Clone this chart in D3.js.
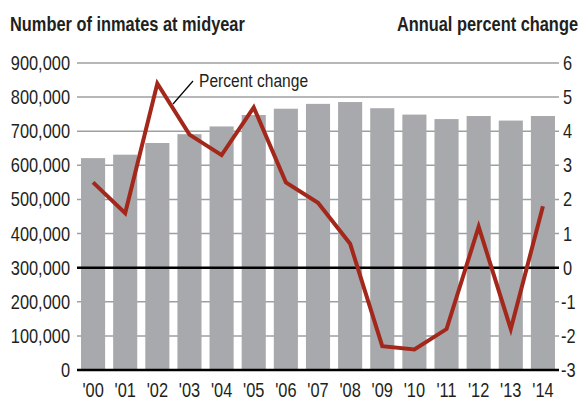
<!DOCTYPE html>
<html>
<head>
<meta charset="utf-8">
<script src="https://cdn.jsdelivr.net/npm/d3@7"></script>
<style>
  body { margin: 0; background: #fff; }
  text { font-family: "Liberation Sans", Arial, sans-serif; fill: #231f20; }
</style>
</head>
<body>
<div id="chart"></div>
<script>
// Jail inmates at midyear and annual percent change, 2000-2014

const years = ["'00", "'01", "'02", "'03", "'04", "'05", "'06", "'07", "'08", "'09", "'10", "'11", "'12", "'13", "'14"];
const inmates = [621149, 631240, 665475, 691301, 713990, 747529, 766010, 780174, 785533, 767434, 748728, 735601, 744524, 731208, 744592];
const pctChange = [2.5, 1.6, 5.4, 3.9, 3.3, 4.7, 2.5, 1.9, 0.7, -2.3, -2.4, -1.8, 1.2, -1.8, 1.8];
const leftTicks = [0, 100000, 200000, 300000, 400000, 500000, 600000, 700000, 800000, 900000];
const rightTicks = [-3, -2, -1, 0, 1, 2, 3, 4, 5, 6];

const width = 579, height = 400;
const plotLeft = 77, plotRight = 559, plotTop = 63, plotBottom = 370;
const squeeze = 0.82; // narrow the font horizontally

const svg = d3.select("#chart")
  .append("svg")
  .attr("width", width)
  .attr("height", height);

const xScale = d3.scaleBand()
  .domain(years)
  .range([plotLeft, plotRight])
  .paddingInner(0.25)
  .paddingOuter(0.125);

const yLeft = d3.scaleLinear()
  .domain([0, 900000])
  .range([plotBottom, plotTop]);

const yRight = d3.scaleLinear()
  .domain([-3, 6])
  .range([plotBottom, plotTop]);

const place = (x, y) => `translate(${x},${y}) scale(${squeeze},1)`;

// gridlines
svg.append("g")
  .selectAll("line")
  .data(leftTicks.filter(d => d !== 0 && d !== 300000))
  .join("line")
  .attr("x1", plotLeft)
  .attr("x2", plotRight)
  .attr("y1", d => yLeft(d))
  .attr("y2", d => yLeft(d))
  .attr("stroke", "#9d9fa2")
  .attr("stroke-width", 1.5);

// bars
svg.append("g")
  .selectAll("rect")
  .data(inmates)
  .join("rect")
  .attr("x", (d, i) => xScale(years[i]))
  .attr("y", d => yLeft(d))
  .attr("width", xScale.bandwidth())
  .attr("height", d => yLeft(0) - yLeft(d))
  .attr("fill", "#a7a9ac");

// zero line for percent change and baseline
svg.append("line")
  .attr("x1", plotLeft).attr("x2", plotRight)
  .attr("y1", yRight(0)).attr("y2", yRight(0))
  .attr("stroke", "#000")
  .attr("stroke-width", 2.5);
svg.append("line")
  .attr("x1", plotLeft).attr("x2", plotRight)
  .attr("y1", yLeft(0)).attr("y2", yLeft(0))
  .attr("stroke", "#000")
  .attr("stroke-width", 2.5);

// percent change line
const line = d3.line()
  .x((d, i) => xScale(years[i]) + xScale.bandwidth() / 2)
  .y(d => yRight(d));

svg.append("path")
  .datum(pctChange)
  .attr("d", line)
  .attr("fill", "none")
  .attr("stroke", "#a3281b")
  .attr("stroke-width", 4)
  .attr("stroke-linejoin", "miter");

// left axis labels
svg.append("g")
  .selectAll("text")
  .data(leftTicks)
  .join("text")
  .text(d => d3.format(",")(d))
  .attr("transform", d => place(70, yLeft(d)))
  .attr("dy", "0.35em")
  .attr("text-anchor", "end")
  .style("font-size", "20px");

// right axis labels
svg.append("g")
  .selectAll("text")
  .data(rightTicks)
  .join("text")
  .text(d => d < 0 ? "-" + Math.abs(d) : d)
  .attr("transform", d => place(d < 0 ? 561 : 563, yRight(d)))
  .attr("dy", "0.35em")
  .style("font-size", "20px");

// x labels
svg.append("g")
  .selectAll("text")
  .data(years)
  .join("text")
  .text(d => d)
  .attr("transform", d => place(xScale(d) + xScale.bandwidth() / 2, 397))
  .attr("text-anchor", "middle")
  .style("font-size", "20px");

// titles
svg.append("text")
  .text("Number of inmates at midyear")
  .attr("transform", place(10, 31))
  .style("font-size", "20px")
  .style("font-weight", "bold");
svg.append("text")
  .text("Annual percent change")
  .attr("transform", place(578, 31))
  .attr("text-anchor", "end")
  .style("font-size", "20px")
  .style("font-weight", "bold");

// annotation
svg.append("line")
  .attr("x1", 173).attr("y1", 104)
  .attr("x2", 193).attr("y2", 81)
  .attr("stroke", "#000")
  .attr("stroke-width", 1.2);
svg.append("text")
  .text("Percent change")
  .attr("transform", place(199, 87))
  .style("font-size", "19px");
</script>
</body>
</html>
